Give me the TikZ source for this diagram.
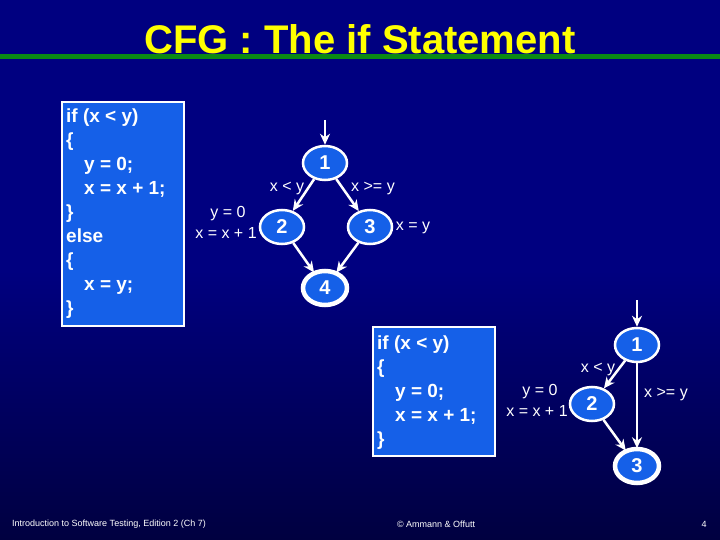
\documentclass[tikz,border=0pt]{standalone}
\usepackage{fontspec}
\setmainfont{Liberation Sans}
\usetikzlibrary{arrows.meta,shapes.geometric}
\definecolor{navy}{HTML}{000080}
\definecolor{navyd}{HTML}{000040}
\definecolor{boxblue}{HTML}{1560E8}
\definecolor{ttl}{HTML}{FFFF00}
\definecolor{grn}{HTML}{0A8A14}
\tikzset{
 cfg/.style={ellipse,draw=white,line width=2.5pt,fill=boxblue,minimum width=44pt,minimum height=34pt,inner sep=0pt,text=white,font=\bfseries\fontsize{20}{20}\selectfont},
 cfgexit/.style={cfg,double=white,double distance=1.5pt,line width=1.5pt,draw=white},
 edge/.style={white,line width=2.5pt,-{Stealth[length=11pt,width=10pt]}},
 lbl/.style={text=white,font=\fontsize{16}{18}\selectfont,inner sep=0pt},
 code/.style={draw=white,line width=1.5pt,fill=boxblue},
 codetxt/.style={text=white,font=\bfseries\fontsize{19}{24}\selectfont,align=left,anchor=north west,inner sep=0pt},
 foot/.style={text=white,font=\fontsize{9}{9}\selectfont,inner sep=0pt}
}
\begin{document}
\begin{tikzpicture}[x=1pt,y=-1pt]
\useasboundingbox (0,0) rectangle (720,540);
\shade[top color=navy,bottom color=navyd,middle color=navy] (0,0) rectangle (720,540);
\node[text=ttl,font=\bfseries\fontsize{40}{40}\selectfont,inner sep=0pt,anchor=base] (title) at (360,54) {CFG : The if Statement};
\fill[grn] (0,54.5) rectangle (720,59.5);
% top code box
\draw[code] (62,102) rectangle (184,326);
\node[codetxt] (c1) at (66,109) {if (x < y)\\\{\\\hspace*{18pt}y = 0;\\\hspace*{18pt}x = x + 1;\\\}\\else\\\{\\\hspace*{18pt}x = y;\\\}};
% top graph
\coordinate (s1) at (325,120);
\node[cfg] (n1) at (325,163) {1};
\node[cfg] (n2) at (282,227) {2};
\node[cfg] (n3) at (370,227) {3};
\node[cfgexit] (n4) at (325,288) {4};
\draw[edge] (s1) -- (n1);
\draw[edge] (n1) -- (n2);
\draw[edge] (n1) -- (n3);
\draw[edge] (n2) -- (n4);
\draw[edge] (n3) -- (n4);
\node[lbl] (l1) at (287,188) {x < y};
\node[lbl] (l2) at (373,188) {x >= y};
\node[lbl] (l3) at (228,214) {y = 0};
\node[lbl] (l4) at (226,233) {x = x + 1};
\node[lbl] (l5) at (413,228) {x = y};
% bottom code box
\draw[code] (373,327) rectangle (495,456);
\node[codetxt] (c2) at (377,336) {if (x < y)\\\{\\\hspace*{18pt}y = 0;\\\hspace*{18pt}x = x + 1;\\\}};
% bottom graph
\coordinate (s2) at (637,300);
\node[cfg] (m1) at (637,345) {1};
\node[cfg] (m2) at (592,404) {2};
\node[cfgexit] (m3) at (637,466) {3};
\draw[edge] (s2) -- (m1);
\draw[edge] (m1) -- (m2);
\draw[edge] (m1) -- (m3);
\draw[edge] (m2) -- (m3);
\node[lbl] (k1) at (598,369) {x < y};
\node[lbl] (k2) at (666,394) {x >= y};
\node[lbl] (k3) at (540,392) {y = 0};
\node[lbl] (k4) at (537,411) {x = x + 1};
% footer
\node[foot,anchor=west] (f1) at (12,524) {Introduction to Software Testing, Edition 2 (Ch 7)};
\node[foot] (f2) at (436,524) {© Ammann \& Offutt};
\node[foot] (f3) at (704,524) {4};
\end{tikzpicture}
\end{document}
